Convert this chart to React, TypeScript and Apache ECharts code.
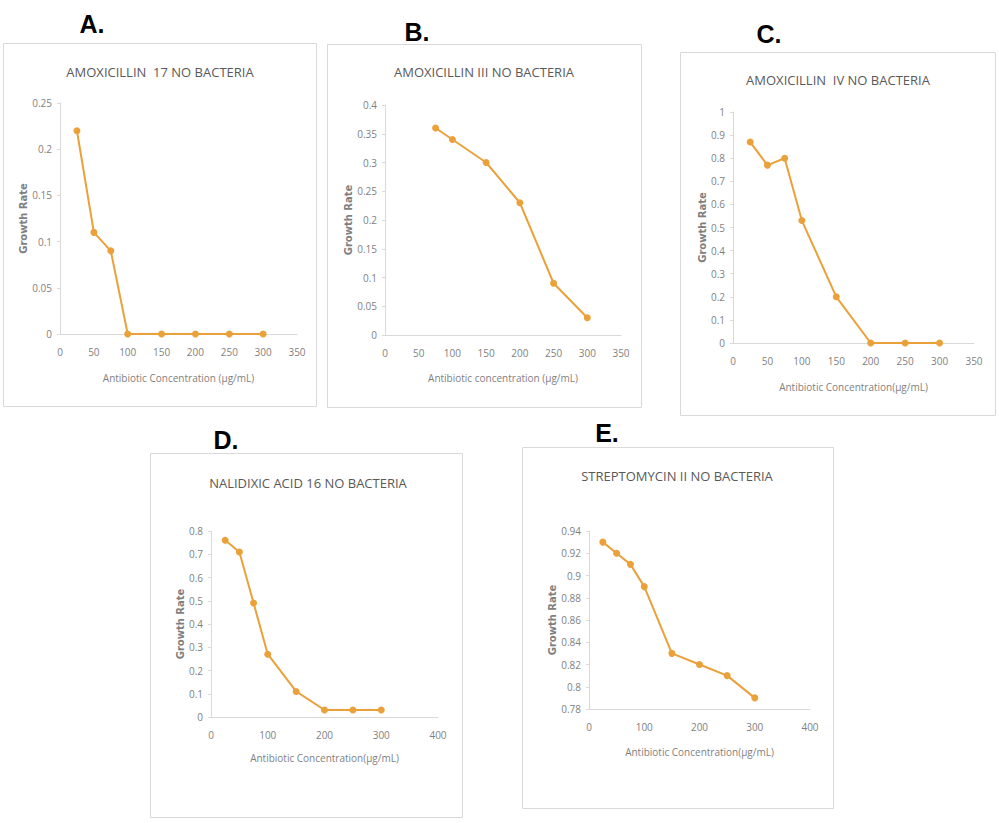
import React, { useEffect, useRef } from "react";
import * as echarts from "echarts";

const panelLetters = ["A.", "B.", "C.", "D.", "E."];
const panelTitles = [
  "AMOXICILLIN  17 NO BACTERIA",
  "AMOXICILLIN III NO BACTERIA",
  "AMOXICILLIN  IV NO BACTERIA",
  "NALIDIXIC ACID 16 NO BACTERIA",
  "STREPTOMYCIN II NO BACTERIA",
];
const xNames = [
  "Antibiotic Concentration (µg/mL)",
  "Antibiotic concentration (µg/mL)",
  "Antibiotic Concentration(µg/mL)",
  "Antibiotic Concentration(µg/mL)",
  "Antibiotic Concentration(µg/mL)",
];
const yName = "Growth Rate";

const concA = [25, 50, 75, 100, 150, 200, 250, 300];
const rateA = [0.22, 0.11, 0.09, 0, 0, 0, 0, 0];
const concB = [75, 100, 150, 200, 250, 300];
const rateB = [0.36, 0.34, 0.3, 0.23, 0.09, 0.03];
const concC = [25, 50, 75, 100, 150, 200, 250, 300];
const rateC = [0.87, 0.77, 0.8, 0.53, 0.2, 0, 0, 0];
const concD = [25, 50, 75, 100, 150, 200, 250, 300];
const rateD = [0.76, 0.71, 0.49, 0.27, 0.11, 0.03, 0.03, 0.03];
const concE = [25, 50, 75, 100, 150, 200, 250, 300];
const rateE = [0.93, 0.92, 0.91, 0.89, 0.83, 0.82, 0.81, 0.79];

const xMax = [350, 350, 350, 400, 400];
const xStep = [50, 50, 50, 100, 100];
const yMin = [0, 0, 0, 0, 0.78];
const yMax = [0.25, 0.4, 1, 0.8, 0.94];
const yStep = [0.05, 0.05, 0.1, 0.1, 0.02];

const allConc = [concA, concB, concC, concD, concE];
const allRate = [rateA, rateB, rateC, rateD, rateE];

// layout (pixels)
const grids = [
  { left: 60, top: 103, width: 237, height: 231 },
  { left: 385, top: 105, width: 236, height: 230 },
  { left: 733, top: 112, width: 241, height: 231 },
  { left: 211, top: 531, width: 227, height: 186 },
  { left: 589, top: 531, width: 221, height: 178 },
];
const boxes = [
  { x: 3, y: 43, w: 313, h: 363 },
  { x: 327, y: 44, w: 314, h: 363 },
  { x: 680, y: 52, w: 315, h: 363 },
  { x: 150, y: 453, w: 312, h: 364 },
  { x: 522, y: 447, w: 311, h: 361 },
];
const letterPos = [
  [92, 24],
  [417, 32],
  [769, 34],
  [226, 440],
  [607, 433],
];
const titlePos = [
  [160, 72],
  [484, 72],
  [838, 80],
  [308, 483],
  [677, 476],
];
const xGap = [39, 38, 39, 36, 38];
const yGap = [29, 27, 24, 25, 31];

const LINE = "#EBA13A";
const AXIS = "#D9D9D9";
const TXT = "#7F7F7F";
const NARROW = "'Liberation Sans Narrow', 'Open Sans', sans-serif";

export default function App() {
  const ref = useRef<HTMLDivElement>(null);
  useEffect(() => {
    if (!ref.current) return;
    const chart = echarts.init(ref.current, undefined, { renderer: "svg" });
    const graphic: any[] = [];
    boxes.forEach((b) => {
      graphic.push({
        type: "rect",
        shape: { x: b.x + 0.5, y: b.y + 0.5, width: b.w, height: b.h },
        style: { fill: "#fff", stroke: AXIS, lineWidth: 1 },
        z: -10,
      });
    });
    panelLetters.forEach((t, i) => {
      graphic.push({
        type: "text",
        x: letterPos[i][0],
        y: letterPos[i][1],
        style: {
          text: t,
          fill: "#000",
          font: "bold 25px 'Liberation Sans', Arial, sans-serif",
          textAlign: "center",
          textVerticalAlign: "middle",
        },
      });
    });
    panelTitles.forEach((t, i) => {
      graphic.push({
        type: "text",
        x: titlePos[i][0],
        y: titlePos[i][1],
        style: {
          text: t,
          fill: "#595959",
          font: "13px " + NARROW,
          textAlign: "center",
          textVerticalAlign: "middle",
        },
      });
    });

    const option: any = {
      animation: false,
      backgroundColor: "#fff",
      graphic,
      grid: grids.map((g) => ({ ...g, containLabel: false })),
      xAxis: grids.map((_, i) => ({
        type: "value",
        gridIndex: i,
        min: 0,
        max: xMax[i],
        interval: xStep[i],
        name: xNames[i],
        nameLocation: "middle",
        nameGap: xGap[i],
        nameTextStyle: { color: TXT, fontSize: 10, fontFamily: NARROW },
        axisLine: { show: true, onZero: false, lineStyle: { color: AXIS, width: 1 } },
        axisTick: { show: false },
        axisLabel: { color: TXT, fontSize: 10, fontFamily: NARROW, margin: 13 },
        splitLine: { show: false },
      })),
      yAxis: grids.map((_, i) => ({
        type: "value",
        gridIndex: i,
        min: yMin[i],
        max: yMax[i],
        interval: yStep[i],
        name: yName,
        nameLocation: "middle",
        nameGap: yGap[i],
        nameTextStyle: {
          color: TXT,
          fontSize: 10,
          fontWeight: "bold",
          fontFamily: "'DejaVu Sans', sans-serif",
        },
        axisLine: { show: true, onZero: false, lineStyle: { color: AXIS, width: 1 } },
        axisTick: { show: true, length: 3, lineStyle: { color: AXIS } },
        axisLabel: { color: TXT, fontSize: 10, fontFamily: NARROW, margin: 8 },
        splitLine: { show: false },
      })),
      series: allConc.map((c, i) => ({
        type: "line",
        xAxisIndex: i,
        yAxisIndex: i,
        data: c.map((x, j) => [x, allRate[i][j]]),
        symbol: "circle",
        symbolSize: 7,
        lineStyle: { color: LINE, width: 2 },
        itemStyle: { color: LINE },
        z: 5,
      })),
    };
    chart.setOption(option);
    return () => chart.dispose();
  }, []);
  return (
    <div
      ref={ref}
      style={{ position: "absolute", left: 0, top: 0, width: 999, height: 823 }}
    />
  );
}
